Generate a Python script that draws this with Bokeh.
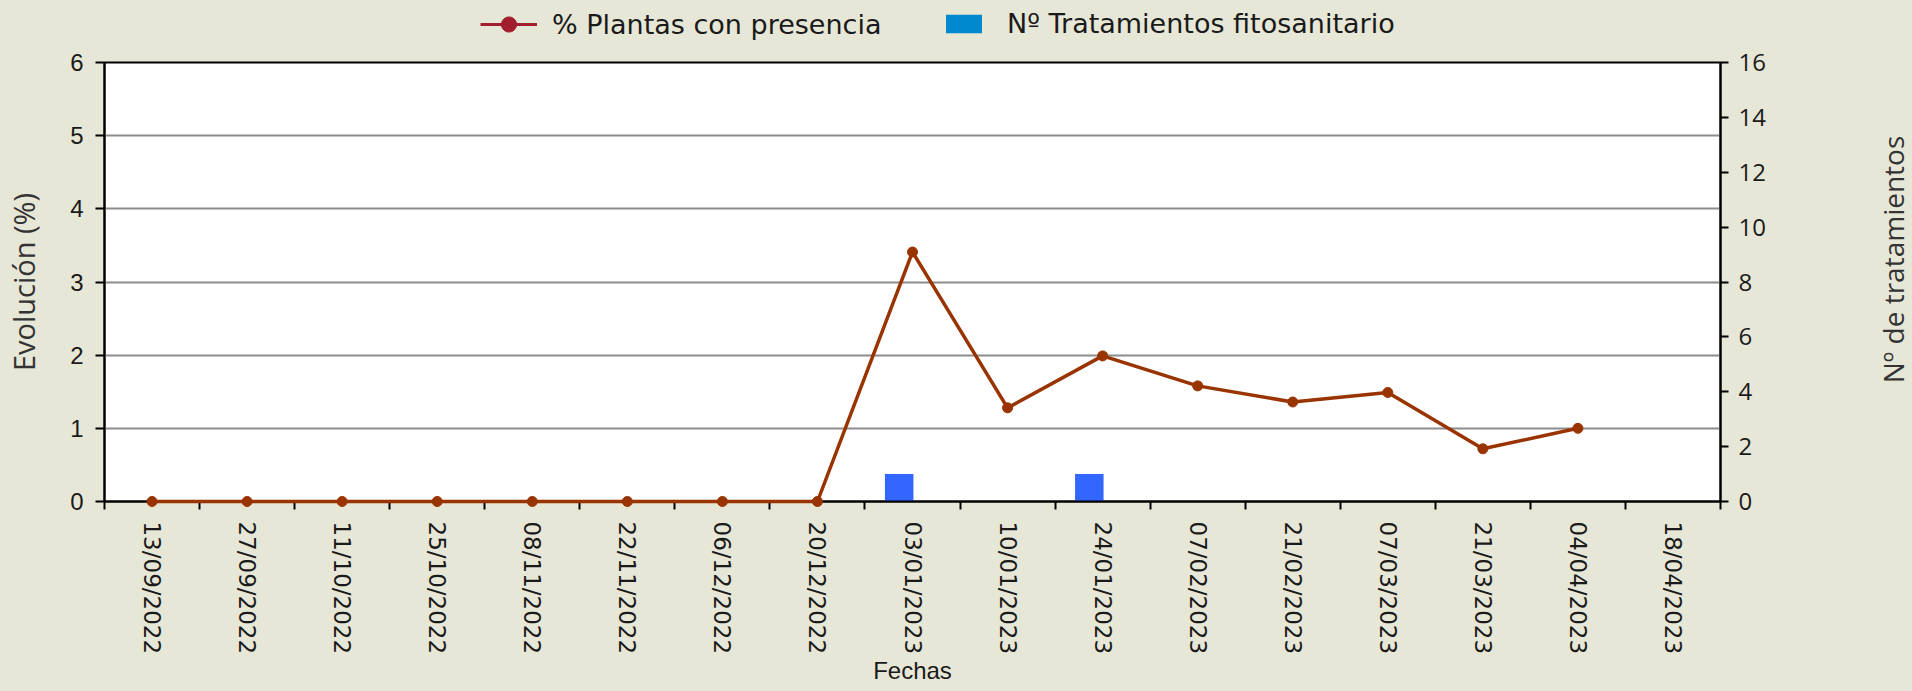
import math
from bokeh.plotting import figure
from bokeh.layouts import column, row
from bokeh.models import (Range1d, LinearAxis, FixedTicker, CustomJSTickFormatter,
                          Legend, LegendItem, ColumnDataSource, Label)
from bokeh.transform import dodge
from bokeh.embed import file_html
from bokeh.resources import INLINE

# ---------------- data ----------------
fechas = ["13/09/2022", "27/09/2022", "11/10/2022", "25/10/2022", "08/11/2022",
          "22/11/2022", "06/12/2022", "20/12/2022", "03/01/2023", "10/01/2023",
          "24/01/2023", "07/02/2023", "21/02/2023", "07/03/2023", "21/03/2023",
          "04/04/2023", "18/04/2023"]
plantas = [0, 0, 0, 0, 0, 0, 0, 0, 3.41, 1.28, 1.99, 1.58, 1.36, 1.49, 0.72, 1.0, float("nan")]
tratamientos = [0, 0, 0, 0, 0, 0, 0, 0, 1, 0, 1, 0, 0, 0, 0, 0, 0]
y_left_ticks = [0, 1, 2, 3, 4, 5, 6]
y_right_ticks = [0, 2, 4, 6, 8, 10, 12, 14, 16]

BG = "#E7E7D7"
LINE = "#993300"
BAR = "#3366FF"

n = len(fechas)
xs = [i + 0.5 for i in range(n)]
src = ColumnDataSource(dict(x=xs, plantas=plantas, trat=tratamientos))

# ---------------- main chart ----------------
p_main = figure(width=1870, height=647, x_range=Range1d(0, n), y_range=Range1d(0, 6),
                output_backend="svg", toolbar_location=None,
                background_fill_color="white", border_fill_color=BG,
                min_border_left=104, min_border_right=150, min_border_top=18, min_border_bottom=190)
p_main.outline_line_color = "black"
p_main.outline_line_width = 2
p_main.extra_y_ranges = {"trat": Range1d(0, 16)}

p_main.xgrid.visible = False
p_main.ygrid.ticker = FixedTicker(ticks=[1, 2, 3, 4, 5])
p_main.ygrid.grid_line_color = "#8c8c8c"
p_main.ygrid.grid_line_width = 2

# left axis
ya = p_main.yaxis[0]
ya.ticker = FixedTicker(ticks=y_left_ticks)
ya.axis_label = "Evolución (%)"
ya.axis_label_text_font = "Open Sans"
ya.axis_label_text_font_size = "29px"
ya.axis_label_text_font_style = "normal"
ya.axis_label_text_color = "#333333"
ya.axis_label_standoff = 24
ya.major_label_text_font = "Liberation Sans"
ya.major_label_text_font_size = "24px"
ya.major_label_text_color = "#1a1a1a"
ya.major_label_standoff = 12
ya.major_tick_out = 9
ya.major_tick_in = 0
ya.major_tick_line_width = 2
ya.major_tick_line_color = "black"
ya.minor_tick_line_color = None
ya.axis_line_width = 2
ya.axis_line_color = "black"

# right axis (its title is drawn in the side strip)
ra = LinearAxis(y_range_name="trat", ticker=FixedTicker(ticks=y_right_ticks))
ra.major_label_text_font = "Open Sans"
ra.major_label_text_font_size = "24px"
ra.major_label_text_color = "#1a1a1a"
ra.major_label_standoff = 10
ra.major_tick_out = 8
ra.major_tick_in = 0
ra.major_tick_line_width = 2
ra.minor_tick_line_color = None
ra.axis_line_width = 2
p_main.add_layout(ra, "right")

# x axis
xa = p_main.xaxis[0]
xa.ticker = FixedTicker(ticks=xs, minor_ticks=list(range(n + 1)))
xa.formatter = CustomJSTickFormatter(args=dict(labels=fechas), code="""
    const i = Math.floor(tick);
    return (i >= 0 && i < labels.length) ? labels[i] : '';
""")
xa.major_label_orientation = "vertical"
xa.major_label_text_font = "DejaVu Sans"
xa.major_label_text_font_size = "23px"
xa.major_label_text_color = "#1a1a1a"
xa.major_tick_line_color = None
xa.major_tick_out = 8
xa.major_tick_in = 0
xa.major_label_standoff = 12
xa.minor_tick_out = 8
xa.minor_tick_in = 0
xa.minor_tick_line_color = "black"
xa.minor_tick_line_width = 2
xa.axis_line_width = 2
xa.axis_line_color = "black"
xa.axis_label = "Fechas"
xa.axis_label_text_font = "Liberation Sans"
xa.axis_label_text_font_size = "24px"
xa.axis_label_text_font_style = "normal"
xa.axis_label_text_color = "#1a1a1a"
xa.axis_label_standoff = 0

# data glyphs
p_main.vbar(x=dodge("x", -0.14, range=p_main.x_range), top="trat", width=0.3, y_range_name="trat",
            fill_color=BAR, line_color=None, source=src)
p_main.line("x", "plantas", source=src, line_color=LINE, line_width=3.5, level="overlay")
p_main.scatter("x", "plantas", source=src, size=10, fill_color=LINE, line_color=LINE, level="overlay")

# ---------------- legend strip ----------------
p_leg = figure(width=1912, height=44, x_range=Range1d(0, 1), y_range=Range1d(0, 1),
               output_backend="svg", toolbar_location=None, x_axis_type=None, y_axis_type=None,
               min_border=0, background_fill_color=BG, border_fill_color=BG,
               outline_line_color=None)
p_leg.grid.visible = False
nan = float("nan")
d1l = p_leg.line([nan], [nan], line_color="#A01E2D", line_width=3)
d1s = p_leg.scatter([nan], [nan], fill_color="#A01E2D", line_color="#A01E2D")
d2 = p_leg.vbar(x=[nan], top=[nan], width=1, fill_color="#0089CC", line_color=None)
common = dict(padding=0, margin=0, border_line_color=None, background_fill_alpha=0,
              label_text_font="DejaVu Sans", label_text_font_size="27px",
              label_text_color="#1a1a1a", orientation="horizontal")
leg1 = Legend(items=[LegendItem(label="% Plantas con presencia", renderers=[d1l, d1s])],
              location=(480, 1), glyph_width=57, glyph_height=38, label_standoff=15, **common)
leg2 = Legend(items=[LegendItem(label="Nº Tratamientos fitosanitario", renderers=[d2])],
              location=(941, 5), glyph_width=45, glyph_height=23, label_standoff=21, **common)
p_leg.add_layout(leg1)
p_leg.add_layout(leg2)

# ---------------- right title strip ----------------
p_rt = figure(width=42, height=647, x_range=Range1d(0, 1), y_range=Range1d(0, 1),
              output_backend="svg", toolbar_location=None, x_axis_type=None, y_axis_type=None,
              min_border=0, background_fill_color=BG, border_fill_color=BG,
              outline_line_color=None)
p_rt.grid.visible = False
p_rt.add_layout(Label(x=22, y=242, x_units="screen", y_units="screen", text="Nº de tratamientos",
                      angle=math.pi / 2, text_align="center", text_baseline="middle",
                      text_font="Open Sans", text_font_size="28px", text_color="#333333"))

p = column(p_leg, row(p_main, p_rt, spacing=0, styles={"background-color": BG}),
           spacing=0, styles={"background-color": BG})

open("out.html", "w").write(file_html(p, INLINE))
